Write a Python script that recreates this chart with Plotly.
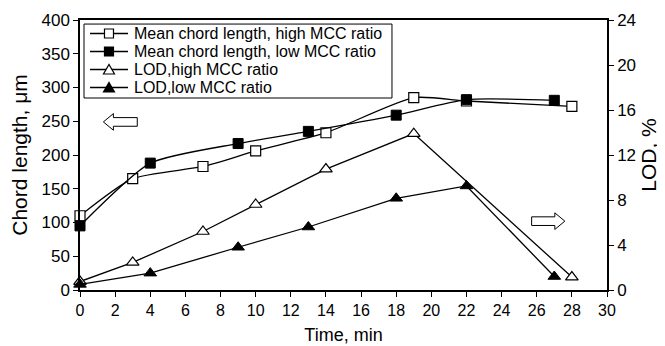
import plotly.graph_objects as go

# Data
t_chord_high = [0, 3, 7, 10, 14, 19, 22, 28]
chord_high = [110, 165, 183, 206, 233, 285, 280, 272]

t_chord_low = [0, 4, 9, 13, 18, 22, 27]
chord_low = [95, 188, 217, 235, 259, 282, 281]

t_lod_high = [0, 3, 7, 10, 14, 19, 28]
lod_high = [0.75, 2.45, 5.2, 7.6, 10.75, 13.9, 1.15]

t_lod_low = [0, 4, 9, 13, 18, 22, 27]
lod_low = [0.5, 1.5, 3.8, 5.6, 8.15, 9.25, 1.2]

series_names = ["Mean chord length, high MCC ratio",
                "Mean chord length, low MCC ratio",
                "LOD,high MCC ratio",
                "LOD,low MCC ratio"]

x_ticks = list(range(0, 31, 2))
FONT = "Arial, Liberation Sans, sans-serif"

fig = go.Figure()

styles = [
    dict(symbol="square", fill="white"),
    dict(symbol="square", fill="black"),
    dict(symbol="triangle-up", fill="white"),
    dict(symbol="triangle-up", fill="black"),
]

fig.add_trace(go.Scatter(
    x=t_chord_high, y=chord_high, name=series_names[0],
    mode="lines+markers", line=dict(color="black", width=1.3, shape="spline", smoothing=0.6),
    marker=dict(symbol="square", size=10, color="white", line=dict(color="black", width=1.2)),
    cliponaxis=False))
fig.add_trace(go.Scatter(
    x=t_chord_low, y=chord_low, name=series_names[1],
    mode="lines+markers", line=dict(color="black", width=1.3, shape="spline", smoothing=0.6),
    marker=dict(symbol="square", size=10, color="black", line=dict(color="black", width=1)),
    cliponaxis=False))
fig.add_trace(go.Scatter(
    x=t_lod_high, y=lod_high, name=series_names[2], yaxis="y2",
    mode="lines+markers", line=dict(color="black", width=1.3),
    marker=dict(symbol="triangle-up", size=11, color="white", line=dict(color="black", width=1.2)),
    cliponaxis=False))
fig.add_trace(go.Scatter(
    x=t_lod_low, y=lod_low, name=series_names[3], yaxis="y2",
    mode="lines+markers", line=dict(color="black", width=1.3),
    marker=dict(symbol="triangle-up", size=11, color="black", line=dict(color="black", width=1)),
    cliponaxis=False))

# Decorative block arrows indicating which axis each series group uses
left_arrow = "M 1.33 249 L 1.9 261.3 L 1.9 255.4 L 3.26 255.4 L 3.26 242.6 L 1.9 242.6 L 1.9 236.7 Z"
right_arrow = "M 27.6 102 L 27.03 114.3 L 27.03 108.4 L 25.71 108.4 L 25.71 95.6 L 27.03 95.6 L 27.03 89.7 Z"
for p in (left_arrow, right_arrow):
    fig.add_shape(type="path", path=p, xref="x", yref="y",
                  line=dict(color="black", width=1), fillcolor="white")

# Compact boxed legend (as in the reference)
fig.add_shape(type="rect", xref="paper", yref="paper", x0=0.0076, x1=0.592, y0=0.7111, y1=0.985,
              line=dict(color="black", width=1), fillcolor="white", layer="above")
row_y = [0.95, 0.8833, 0.8167, 0.75]
for name, st, ry in zip(series_names, styles, row_y):
    fig.add_shape(type="line", xref="paper", yref="paper", x0=0.019, x1=0.0911, y0=ry, y1=ry,
                  line=dict(color="black", width=1.3), layer="above")
    if st["symbol"] == "square":
        fig.add_shape(type="rect", xref="paper", yref="paper", xsizemode="pixel", ysizemode="pixel",
                      xanchor=0.055, yanchor=ry, x0=-4.5, x1=4.5, y0=-4.5, y1=4.5,
                      line=dict(color="black", width=1.2), fillcolor=st["fill"], layer="above")
    else:
        fig.add_shape(type="path", xref="paper", yref="paper", xsizemode="pixel", ysizemode="pixel",
                      xanchor=0.055, yanchor=ry, path="M -5.5 -4.5 L 5.5 -4.5 L 0 5 Z",
                      line=dict(color="black", width=1.2), fillcolor=st["fill"], layer="above")
    fig.add_annotation(text=name, xref="paper", yref="paper", x=0.0987, y=ry,
                       xanchor="left", yanchor="middle", showarrow=False,
                       font=dict(family=FONT, size=16, color="black"))

fig.update_layout(
    width=657, height=338,
    margin=dict(l=72, r=58, t=12, b=56),
    paper_bgcolor="white", plot_bgcolor="white",
    font=dict(family=FONT, size=16, color="black"),
    showlegend=False,
    xaxis=dict(range=[0, 30], tickvals=x_ticks, ticktext=[str(v) for v in x_ticks],
               showgrid=False, zeroline=False, showline=True, linecolor="black", linewidth=1.5,
               mirror=True, ticks="outside", ticklen=5, tickcolor="black",
               tickfont=dict(size=16), automargin=False,
               title=dict(text="Time, min", font=dict(size=18), standoff=10)),
    yaxis=dict(range=[0, 400], dtick=50, showgrid=False, zeroline=False,
               showline=True, linecolor="black", linewidth=1.5, automargin=False,
               ticks="outside", ticklen=5, tickcolor="black", tickfont=dict(size=17),
               title=dict(text="Chord length, μm", font=dict(size=21), standoff=8)),
    yaxis2=dict(range=[0, 24], dtick=4, overlaying="y", side="right", showgrid=False,
                zeroline=False, showline=True, linecolor="black", linewidth=1.5, automargin=False,
                ticks="outside", ticklen=5, tickcolor="black", tickfont=dict(size=17),
                title=dict(text="LOD, %", font=dict(size=21), standoff=6)),
)

fig.write_html("out.html")
